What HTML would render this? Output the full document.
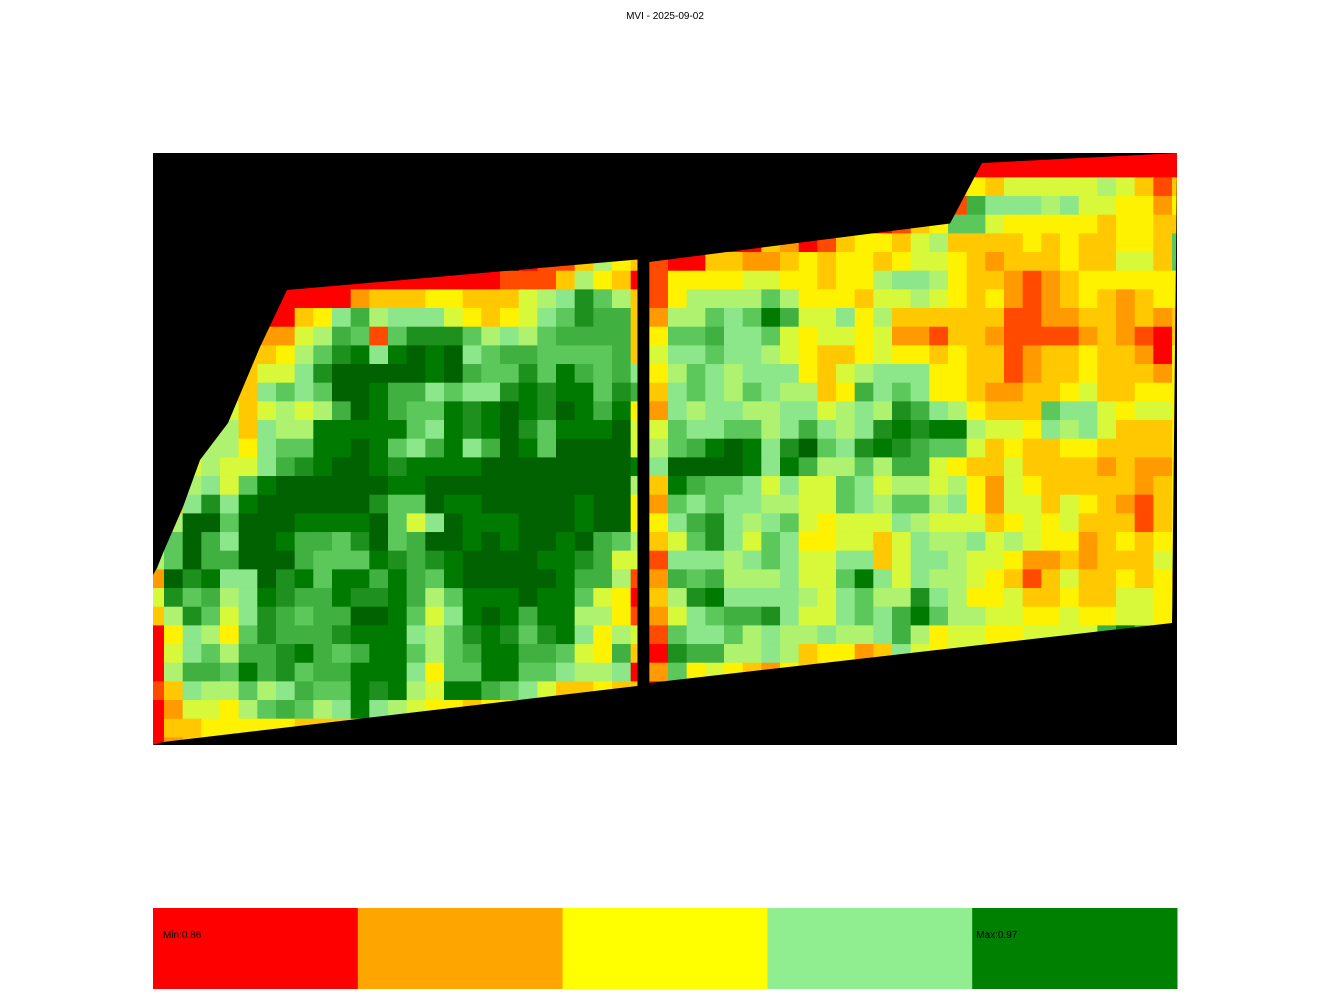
<!DOCTYPE html>
<html>
<head>
<meta charset="utf-8">
<style>
  html,body{margin:0;padding:0;background:#fff;}
  body{width:1330px;height:998px;overflow:hidden;}
  svg{display:block;}
  text{font-family:"Liberation Sans",sans-serif;}
</style>
</head>
<body>
<svg id="chart" width="1330" height="998" viewBox="0 0 1330 998" xmlns="http://www.w3.org/2000/svg">
  <text x="665" y="19" text-anchor="middle" font-size="10" fill="#000">MVI - 2025-09-02</text>
  <defs>
    <clipPath id="clipLeft"><polygon points="287,290 637.5,259.5 637.5,686 163,742 153,745 153,575 157,568 163,553 183,507 200,460 228,423 260,347"/></clipPath>
    <clipPath id="clipRight"><polygon points="649,262 950,223.5 982,163 1177,153 1177,165 1172,623 649,683"/></clipPath>
  </defs>
  <rect x="153" y="153" width="1024" height="592" fill="#000"/>
  <g id="fieldLeft" clip-path="url(#clipLeft)"></g>
  <g id="fieldRight" clip-path="url(#clipRight)"></g>
  <g id="legend"></g>
</svg>
<script>
// value levels per cell: 0 = lowest (red) ... C = highest (dark green); '.' = no data
const cellRows = [
"..........................." + "................0000000000000",
"..........................." + "................0000000000000",
"..........................." + "................3435555565313",
"..........................." + "................1977767554424",
"..........................." + ".........0000134" + "8854444434433",
"..........................." + "0000003201344356" + "3333434334438",
"...................." + "0113643" + "1003322343443455" + "4323334335538",
".......000000000000" + "1113643" + "0" + "1444455443446776" + "4332123444444",
"......" + "00000" + "2333443335" + "67A863" + "1466668644435565" + "4342123432344",
"......" + "00347967775434578A993" + "266878B955746333" + "3331122332323",
"......" + "22569818AAA8676899993" + "4889778545545221" + "3321111232103",
"....." + "33468AB7BCBC7899888893" + "5778776543345443" + "4331233433204",
"....." + "3557ACCCCCBC988A8B9897" + "4687677743567774" + "4331233433324",
"...." + "337878CCB997877ABABB8A9" + "3787687663497874" + "4322334533444",
"...." + "5356569CB988BABCBACB9B4" + "2767766775676A97" + "6433387754554",
"..." + "663766BBBBB87BABCA8BBBC5" + "587788679767ABAB" + "B655476753334",
".." + "4664788BBCB879B79CB8CCCC5" + "689BCB7AC87ABA98" + "8534334433334",
".." + "565579ABCCBABBBBCCCCCCCCB" + "7CCCCB7B96686995" + "4335333323224",
"." + "56758BCCCCCCBBCCCCCCCCCCC6" + "3B98875755875665" + "6425433333234",
"." + "37A7BCCCCCCA88CBBCCCCCBCC4" + "2878776655876886" + "7425535432134",
"16CC8CCCBBBBC857CBBBCCCBCC4" + "479A767854555765" + "5534545333134",
"38C97CCB998AC89CCBCBCCBC986" + "358A758744553576" + "6756544234344",
"68C99CCC9888BA9ABCCCCBBA955" + "1777678755773577" + "6554223233354",
"2CAB77CAB8BB9B98BCCCCCB9961" + "29896667558B7576" + "6543135334344",
"5A8967BA99BAAB968BBBCBB8540" + "36AB7777657866A7" + "6445334335544",
"36A857A9899CCB857BCB9BB6641" + "257899A7557879B8" + "6655445445544",
"047648A999ABBB768ABA8AB7465" + "1877867667667964" + "554455559B944",
"0578699AB989BB8689BB9985493" + "0A99667634423754" + "5544555555544",
"06998B9A899BBB7488BB8876670" + "2845432433333333" + "4444444444444",
"13766867988BAB65BB987533433" + "0244433333333333" + "3333333333333",
"02554689867B765443444444444" + ".............................",
"033444443333333333333333333" + ".............................",
"023333333333333333333333333" + "............................."
];
const levelColors = ["#FF0000","#FF4A00","#FF9A00","#FFC800","#FFF200","#D8F83A","#AEF270","#8CE68A","#5CC85C","#40B040","#1E901E","#007A00","#006200"];
const legendLabels = ["Min:0.86","","","","Max:0.97"];
const legendColors = ["#FF0000","#FFA500","#FFFF00","#90EE90","#008000"];

const NS = "http://www.w3.org/2000/svg";
const CELL = 18.667;
const X0 = 145.33, Y0 = 140.03;
const SPLIT_COL = 27;
function xOf(c){ return X0 + c * CELL; }
function yOf(r){ return Y0 + r * CELL; }

const gL = document.getElementById("fieldLeft");
const gR = document.getElementById("fieldRight");
cellRows.forEach(function(rowStr, r){
  for (let c = 0; c < rowStr.length; c++){
    const ch = rowStr[c];
    if (ch === ".") continue;
    const v = parseInt(ch, 16);
    const rect = document.createElementNS(NS, "rect");
    rect.setAttribute("x", xOf(c).toFixed(2));
    rect.setAttribute("y", yOf(r).toFixed(2));
    rect.setAttribute("width", (CELL + 0.4).toFixed(2));
    rect.setAttribute("height", (CELL + 0.4).toFixed(2));
    rect.setAttribute("fill", levelColors[v]);
    
    
    (c < SPLIT_COL ? gL : gR).appendChild(rect);
  }
});

const lg = document.getElementById("legend");
const LX = 153, LW = 1024 / legendColors.length, LY = 908, LH = 81;
legendColors.forEach(function(col, i){
  const rect = document.createElementNS(NS, "rect");
  rect.setAttribute("x", (LX + i * LW).toFixed(2));
  rect.setAttribute("y", LY);
  rect.setAttribute("width", (LW + 0.5).toFixed(2));
  rect.setAttribute("height", LH);
  rect.setAttribute("fill", col);
  
  
  lg.appendChild(rect);
  if (legendLabels[i]){
    const t = document.createElementNS(NS, "text");
    t.setAttribute("x", (LX + i * LW + (i === 0 ? 10 : 4)).toFixed(2));
    t.setAttribute("y", 938);
    t.setAttribute("font-size", "10");
    t.setAttribute("fill", "#000");
    t.textContent = legendLabels[i];
    
    
    lg.appendChild(t);
  }
});
</script>
</body>
</html>
